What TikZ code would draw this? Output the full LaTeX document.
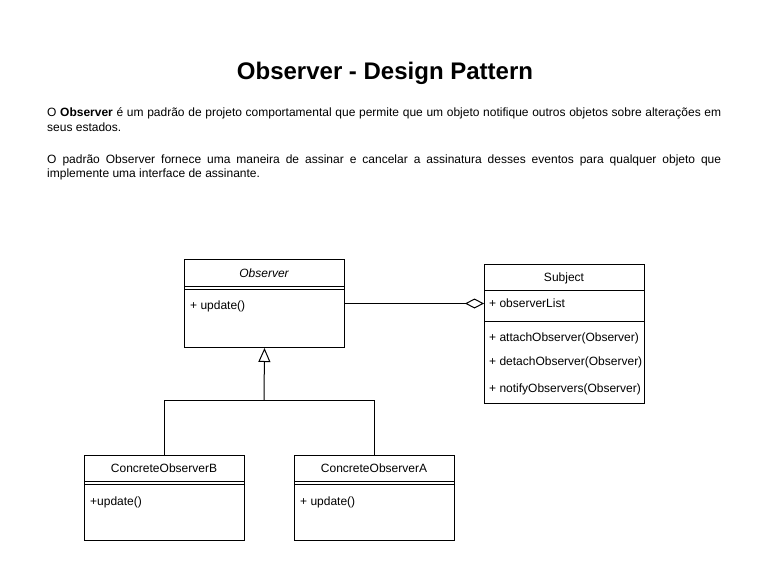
\documentclass[tikz,border=0pt]{standalone}
\usepackage{fontspec}
\setmainfont{Liberation Sans}
\usetikzlibrary{arrows.meta}
\begin{document}
\begin{tikzpicture}[x=1pt,y=-1pt,
  classbox/.style={draw=black, line width=1pt, fill=white, inner sep=0pt, anchor=north west},
  ctext/.style={font=\fontsize{12}{14}\selectfont, inner sep=0pt},
  mtext/.style={font=\fontsize{12}{14}\selectfont, inner sep=0pt, anchor=west},
  ptext/.style={font=\fontsize{12}{14}\selectfont, inner sep=0pt, anchor=west},
  sep/.style={line width=1pt},
  conn/.style={line width=1pt}]
\useasboundingbox (0,0) rectangle (770,585);
\fill[white] (0,0) rectangle (770,585);

% title and text
\node[font=\fontsize{24}{28}\selectfont\bfseries, inner sep=0pt] (title) at (385,73) {Observer - Design Pattern};
\node[ptext] (p1) at (47,113) {\makebox[674pt][s]{O \textbf{Observer} é um padrão de projeto comportamental que permite que um objeto notifique outros objetos sobre alterações em}};
\node[ptext] (p2) at (47,127) {seus estados.};
\node[ptext] (p3) at (47,160) {\makebox[674pt][s]{O padrão Observer fornece uma maneira de assinar e cancelar a assinatura desses eventos para qualquer objeto que}};
\node[ptext] (p4) at (47,174) {implemente uma interface de assinante.};

% Observer
\node[classbox, minimum width=160pt, minimum height=88pt] (obs) at (184,259) {};
\node[ctext, font=\fontsize{12}{14}\selectfont\itshape] (obsT) at (264,273) {Observer};
\draw[sep] (184,286) -- (344,286);
\draw[sep] (184,289.5) -- (344,289.5);
\node[mtext] (obsM) at (190,306) {+ update()};

% Subject
\node[classbox, minimum width=160pt, minimum height=139pt] (subj) at (484,264) {};
\node[ctext] (subjT) at (564,278) {Subject};
\draw[sep] (484,290) -- (644,290);
\node[mtext] (subjA) at (489,303) {+ observerList};
\draw[sep] (484,321) -- (644,321);
\begin{scope}
\clip (484,321) rectangle (643,403);
\node[mtext] (subjM1) at (489,338) {+ attachObserver(Observer)};
\node[mtext] (subjM2) at (489,362) {+ detachObserver(Observer)};
\node[mtext] (subjM3) at (489,389) {+ notifyObservers(Observer)};
\end{scope}

% ConcreteObserverB
\node[classbox, minimum width=160pt, minimum height=85pt] (cb) at (84,455) {};
\node[ctext] (cbT) at (164,468) {ConcreteObserverB};
\draw[sep] (84,481) -- (244,481);
\draw[sep] (84,484.5) -- (244,484.5);
\node[mtext] (cbM) at (90,502) {+update()};

% ConcreteObserverA
\node[classbox, minimum width=160pt, minimum height=85pt] (ca) at (294,455) {};
\node[ctext] (caT) at (374,468) {ConcreteObserverA};
\draw[sep] (294,481) -- (454,481);
\draw[sep] (294,484.5) -- (454,484.5);
\node[mtext] (caM) at (300,502) {+ update()};

% aggregation
\draw[conn, -{Diamond[open, length=19pt, width=10pt, line width=1pt]}] (obs.east) -- (obs.east -| subj.west);

% inheritance
\coordinate (j) at (264,400);
\draw[conn] (cb.north) |- (j);
\draw[conn] (ca.north) |- (j);
\draw[conn, -{Triangle[open, length=14pt, width=12pt, line width=1pt]}] (j) -- (obs.south);
\end{tikzpicture}
\end{document}
